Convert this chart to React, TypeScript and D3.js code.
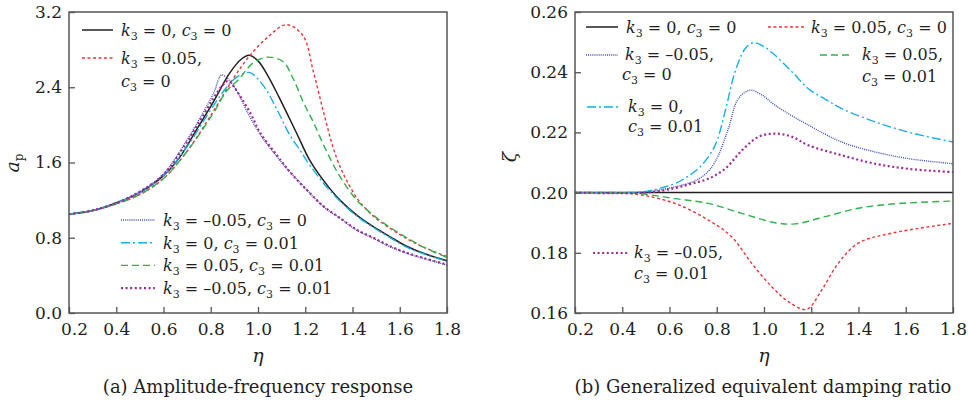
import React, { useEffect, useRef } from "react";
import * as d3 from "d3";

type Pt = [number, number];

const W = 968;
const H = 408;

// axis ticks
const etaTicks = [0.2, 0.4, 0.6, 0.8, 1.0, 1.2, 1.4, 1.6, 1.8];
const apTicks = [0, 0.8, 1.6, 2.4, 3.2];
const zetaTicks = [0.16, 0.18, 0.2, 0.22, 0.24, 0.26];

// legend labels, in series order
const k3Labels = ["0", "0.05", "–0.05", "0", "0.05", "–0.05"];
const c3Labels = ["0", "0", "0", "0.01", "0.01", "0.01"];

// (a) amplitude a_p against eta
const apK0C0: Pt[] = [
  [0.2, 1.05], [0.3, 1.09], [0.4, 1.17], [0.5, 1.28], [0.6, 1.46], [0.67, 1.66],
  [0.74, 1.95], [0.81, 2.24], [0.88, 2.55], [0.93, 2.70], [0.962, 2.74], [1.0, 2.68],
  [1.04, 2.53], [1.09, 2.29], [1.16, 1.93], [1.22, 1.62], [1.277, 1.41], [1.347, 1.20],
  [1.418, 1.04], [1.488, 0.917], [1.559, 0.81], [1.629, 0.71], [1.70, 0.635], [1.8, 0.555],
];
const apK05C0: Pt[] = [
  [0.2, 1.05], [0.3, 1.09], [0.4, 1.16], [0.5, 1.26], [0.6, 1.43], [0.7, 1.72],
  [0.81, 2.14], [0.895, 2.49], [0.96, 2.72], [1.04, 2.93], [1.12, 3.065], [1.19, 2.95],
  [1.234, 2.57], [1.277, 2.14], [1.319, 1.75], [1.35, 1.54], [1.375, 1.41], [1.425, 1.20],
  [1.488, 1.03], [1.559, 0.90], [1.63, 0.79], [1.70, 0.70], [1.8, 0.60],
];
const apKm05C0: Pt[] = [
  [0.2, 1.05], [0.3, 1.09], [0.4, 1.17], [0.5, 1.29], [0.6, 1.48], [0.7, 1.84],
  [0.754, 2.07], [0.811, 2.33], [0.846, 2.53], [0.88, 2.47], [0.917, 2.33], [0.952, 2.15],
  [0.994, 1.96], [1.04, 1.79], [1.107, 1.58], [1.135, 1.50], [1.206, 1.31], [1.277, 1.13],
  [1.347, 1.007], [1.418, 0.88], [1.488, 0.794], [1.559, 0.705], [1.629, 0.635], [1.70, 0.58],
  [1.8, 0.51],
];
const apK0C01: Pt[] = [
  [0.2, 1.05], [0.3, 1.09], [0.4, 1.17], [0.5, 1.28], [0.6, 1.46], [0.7, 1.77],
  [0.81, 2.20], [0.881, 2.44], [0.924, 2.53], [0.966, 2.555], [1.022, 2.42], [1.079, 2.17],
  [1.135, 1.89], [1.178, 1.73], [1.206, 1.62], [1.277, 1.38], [1.347, 1.19], [1.418, 1.03],
  [1.488, 0.91], [1.559, 0.80], [1.629, 0.70], [1.70, 0.63], [1.8, 0.55],
];
const apK05C01: Pt[] = [
  [0.2, 1.05], [0.3, 1.09], [0.4, 1.16], [0.5, 1.26], [0.6, 1.43], [0.7, 1.72],
  [0.81, 2.12], [0.867, 2.36], [0.917, 2.48], [0.98, 2.66], [1.044, 2.72], [1.107, 2.67],
  [1.149, 2.49], [1.192, 2.24], [1.234, 2.03], [1.288, 1.73], [1.347, 1.45], [1.418, 1.20],
  [1.488, 1.04], [1.559, 0.91], [1.63, 0.80], [1.70, 0.70], [1.8, 0.59],
];
const apKm05C01: Pt[] = [
  [0.2, 1.05], [0.3, 1.09], [0.4, 1.17], [0.5, 1.29], [0.6, 1.47], [0.7, 1.82],
  [0.754, 2.04], [0.811, 2.28], [0.85, 2.42], [0.875, 2.47], [0.905, 2.38], [0.931, 2.28],
  [0.973, 2.10], [1.008, 1.92], [1.079, 1.68], [1.135, 1.50], [1.206, 1.31], [1.277, 1.135],
  [1.347, 1.01], [1.418, 0.885], [1.488, 0.80], [1.559, 0.71], [1.629, 0.64], [1.70, 0.585],
  [1.8, 0.515],
];

// (b) generalized equivalent damping ratio zeta against eta
const zK0C0: Pt[] = [[0.2, 0.2], [1.0, 0.2], [1.8, 0.2]];
const zK05C0: Pt[] = [
  [0.2, 0.2], [0.4, 0.1998], [0.482, 0.1992], [0.623, 0.1964], [0.764, 0.1909], [0.863, 0.1853],
  [0.948, 0.1765], [1.033, 0.1687], [1.103, 0.1638], [1.18, 0.1612], [1.244, 0.1676],
  [1.314, 0.1765], [1.399, 0.1832], [1.54, 0.1865], [1.8, 0.1898],
];
const zKm05C0: Pt[] = [
  [0.2, 0.2], [0.45, 0.2], [0.553, 0.2008], [0.694, 0.2035], [0.75, 0.206], [0.793, 0.2102],
  [0.849, 0.2212], [0.891, 0.2312], [0.941, 0.234], [0.99, 0.2325], [1.047, 0.229],
  [1.188, 0.2224], [1.329, 0.2168], [1.47, 0.2135], [1.611, 0.2113], [1.8, 0.2096],
];
const zK0C01: Pt[] = [
  [0.2, 0.2], [0.4, 0.2], [0.482, 0.2002], [0.553, 0.2013], [0.623, 0.203], [0.68, 0.2055],
  [0.736, 0.2091], [0.793, 0.2157], [0.835, 0.2268], [0.877, 0.240], [0.92, 0.2478],
  [0.955, 0.2498], [1.0, 0.2485], [1.047, 0.2456], [1.12, 0.240], [1.188, 0.2345],
  [1.26, 0.231], [1.329, 0.2279], [1.47, 0.2235], [1.611, 0.2201], [1.8, 0.2168],
];
const zK05C01: Pt[] = [
  [0.2, 0.2], [0.4, 0.2], [0.482, 0.1996], [0.623, 0.198], [0.764, 0.1964], [0.906, 0.1931],
  [1.047, 0.190], [1.131, 0.1896], [1.258, 0.192], [1.399, 0.1948], [1.54, 0.1962], [1.8, 0.1972],
];
const zKm05C01: Pt[] = [
  [0.2, 0.2], [0.5, 0.2], [0.623, 0.2015], [0.694, 0.203], [0.764, 0.2046], [0.835, 0.2079],
  [0.906, 0.214], [0.976, 0.2185], [1.047, 0.2196], [1.12, 0.2185], [1.188, 0.2157],
  [1.329, 0.2124], [1.47, 0.2096], [1.611, 0.2079], [1.8, 0.2068],
];

const apSeries = [apK0C0, apK05C0, apKm05C0, apK0C01, apK05C01, apKm05C01];
const zetaSeries = [zK0C0, zK05C0, zKm05C0, zK0C01, zK05C01, zKm05C01];

const styles = [
  { color: "#231f20", dash: "none", width: 1.5 },
  { color: "#ee3338", dash: "3,2.5", width: 1.4 },
  { color: "#3f4fae", dash: "1,1.1", width: 1.4 },
  { color: "#18aee6", dash: "9,3,2,3", width: 1.4 },
  { color: "#2fb14c", dash: "7,4", width: 1.4 },
  { color: "#9b2a96", dash: "2,2.6", width: 2.2 },
];

const SERIF = "'DejaVu Serif', serif";
const INK = "#231f20";
const LEG = 16;

// legend label "k3 = .., c3 = .." (optionally wrapped onto two lines)
function KC({ i, x, y, wrap, x2, y2 }: { i: number; x: number; y: number; wrap?: boolean; x2?: number; y2?: number }) {
  const k = (
    <>
      <tspan fontStyle="italic">k</tspan>
      <tspan fontSize="11" dy="4">3</tspan>
      <tspan dy="-4">{" = " + k3Labels[i] + ","}</tspan>
    </>
  );
  const c = (
    <>
      <tspan fontStyle="italic">c</tspan>
      <tspan fontSize="11" dy="4">3</tspan>
      <tspan dy="-4">{" = " + c3Labels[i]}</tspan>
    </>
  );
  if (wrap) {
    return (
      <g fontFamily={SERIF} fontSize={LEG} fill={INK}>
        <text x={x} y={y}>{k}</text>
        <text x={x2 ?? x} y={y2}>{c}</text>
      </g>
    );
  }
  return (
    <text x={x} y={y} fontFamily={SERIF} fontSize={LEG} fill={INK}>
      {k}
      <tspan>{" "}</tspan>
      {c}
    </text>
  );
}

function Sample({ i, x1, x2, y }: { i: number; x1: number; x2: number; y: number }) {
  const s = styles[i];
  return (
    <line x1={x1} x2={x2} y1={y} y2={y} stroke={s.color} strokeWidth={s.width}
      strokeDasharray={s.dash} />
  );
}

function Panel({ left, series, yDomain, yTicks, yFmt }: {
  left: number; series: Pt[][]; yDomain: [number, number]; yTicks: number[]; yFmt: string;
}) {
  const gx = useRef<SVGGElement>(null);
  const gy = useRef<SVGGElement>(null);
  const top = 12, bottom = 313, width = 378;
  const x = d3.scaleLinear().domain([0.2, 1.8]).range([left, left + width]);
  const y = d3.scaleLinear().domain(yDomain).range([bottom, top]);

  useEffect(() => {
    const ax = d3.axisBottom(x).tickValues(etaTicks).tickSize(-6).tickPadding(10)
      .tickFormat(d3.format(".1f"));
    const ay = d3.axisLeft(y).tickValues(yTicks).tickSize(-6).tickPadding(7)
      .tickFormat(d3.format(yFmt));
    const sx = d3.select(gx.current!).call(ax as any);
    const sy = d3.select(gy.current!).call(ay as any);
    [sx, sy].forEach((s) => {
      s.select(".domain").remove();
      s.attr("font-family", SERIF).attr("font-size", 17).style("color", INK);
      s.selectAll(".tick line").attr("stroke", "#555").attr("stroke-width", 1.3);
    });
    sx.selectAll<SVGTextElement, number>(".tick text").attr("dx", (d) => (d === 0.2 ? 5 : 0));
    return () => {
      sx.selectAll("*").remove();
      sy.selectAll("*").remove();
    };
  }, [left]);

  const line = d3.line<Pt>().x((d) => x(d[0])).y((d) => y(d[1])).curve(d3.curveCatmullRom.alpha(0.5));

  return (
    <g>
      {series.map((d, i) => (
        <path key={i} d={line(d) || ""} fill="none" stroke={styles[i].color}
          strokeWidth={styles[i].width} strokeDasharray={styles[i].dash} />
      ))}
      <rect x={left} y={top} width={width} height={bottom - top} fill="none" stroke="#555" strokeWidth={1.5} />
      <g ref={gx} transform={`translate(0,${bottom})`} />
      <g ref={gy} transform={`translate(${left},0)`} />
    </g>
  );
}

export default function App() {
  return (
    <svg width={W} height={H} viewBox={`0 0 ${W} ${H}`}
      style={{ position: "absolute", left: 0, top: 0, background: "#fff" }}>
      <rect width={W} height={H} fill="#fff" />

      {/* (a) */}
      <Panel left={69} series={apSeries} yDomain={[0, 3.2]} yTicks={apTicks} yFmt=".1f" />
      <Sample i={0} x1={82} x2={113} y={30} />
      <KC i={0} x={121} y={36} />
      <Sample i={1} x1={82} x2={113} y={58} />
      <KC i={1} x={121} y={64} wrap y2={87} />
      {[2, 3, 4, 5].map((s, j) => (
        <g key={s}>
          <Sample i={s} x1={121} x2={155} y={220 + j * 22.7} />
          <KC i={s} x={163} y={226 + j * 22.7} />
        </g>
      ))}
      <text transform="translate(19,163) rotate(-90)" textAnchor="middle" fontFamily={SERIF} fontSize="19" fill={INK}>
        <tspan fontStyle="italic">a</tspan>
        <tspan fontSize="12" dy="4">p</tspan>
      </text>
      <text x={258} y={362} textAnchor="middle" fontFamily={SERIF} fontStyle="italic" fontSize="19" fill={INK}>η</text>
      <text x={258} y={393} textAnchor="middle" fontFamily={SERIF} fontSize="18" fill={INK}>
        (a) Amplitude-frequency response
      </text>

      {/* (b) */}
      <Panel left={575} series={zetaSeries} yDomain={[0.16, 0.26]} yTicks={zetaTicks} yFmt=".2f" />
      <Sample i={0} x1={586} x2={618} y={27} />
      <KC i={0} x={626} y={33} />
      <Sample i={1} x1={768} x2={805} y={27} />
      <KC i={1} x={811} y={33} />
      <Sample i={2} x1={586} x2={618} y={55} />
      <KC i={2} x={625} y={60} wrap x2={622} y2={80} />
      <Sample i={4} x1={820} x2={852} y={55} />
      <KC i={4} x={862} y={60} wrap y2={82} />
      <Sample i={3} x1={587} x2={620} y={107} />
      <KC i={3} x={628} y={112} wrap y2={132} />
      <Sample i={5} x1={593} x2={628} y={253} />
      <KC i={5} x={634} y={258} wrap y2={279} />
      <text transform="translate(516,157) rotate(-90)" textAnchor="middle" fontFamily={SERIF} fontStyle="italic" fontSize="19" fill={INK}>ζ</text>
      <text x={764} y={362} textAnchor="middle" fontFamily={SERIF} fontStyle="italic" fontSize="19" fill={INK}>η</text>
      <text x={763} y={393} textAnchor="middle" fontFamily={SERIF} fontSize="18" fill={INK}>
        (b) Generalized equivalent damping ratio
      </text>
    </svg>
  );
}
